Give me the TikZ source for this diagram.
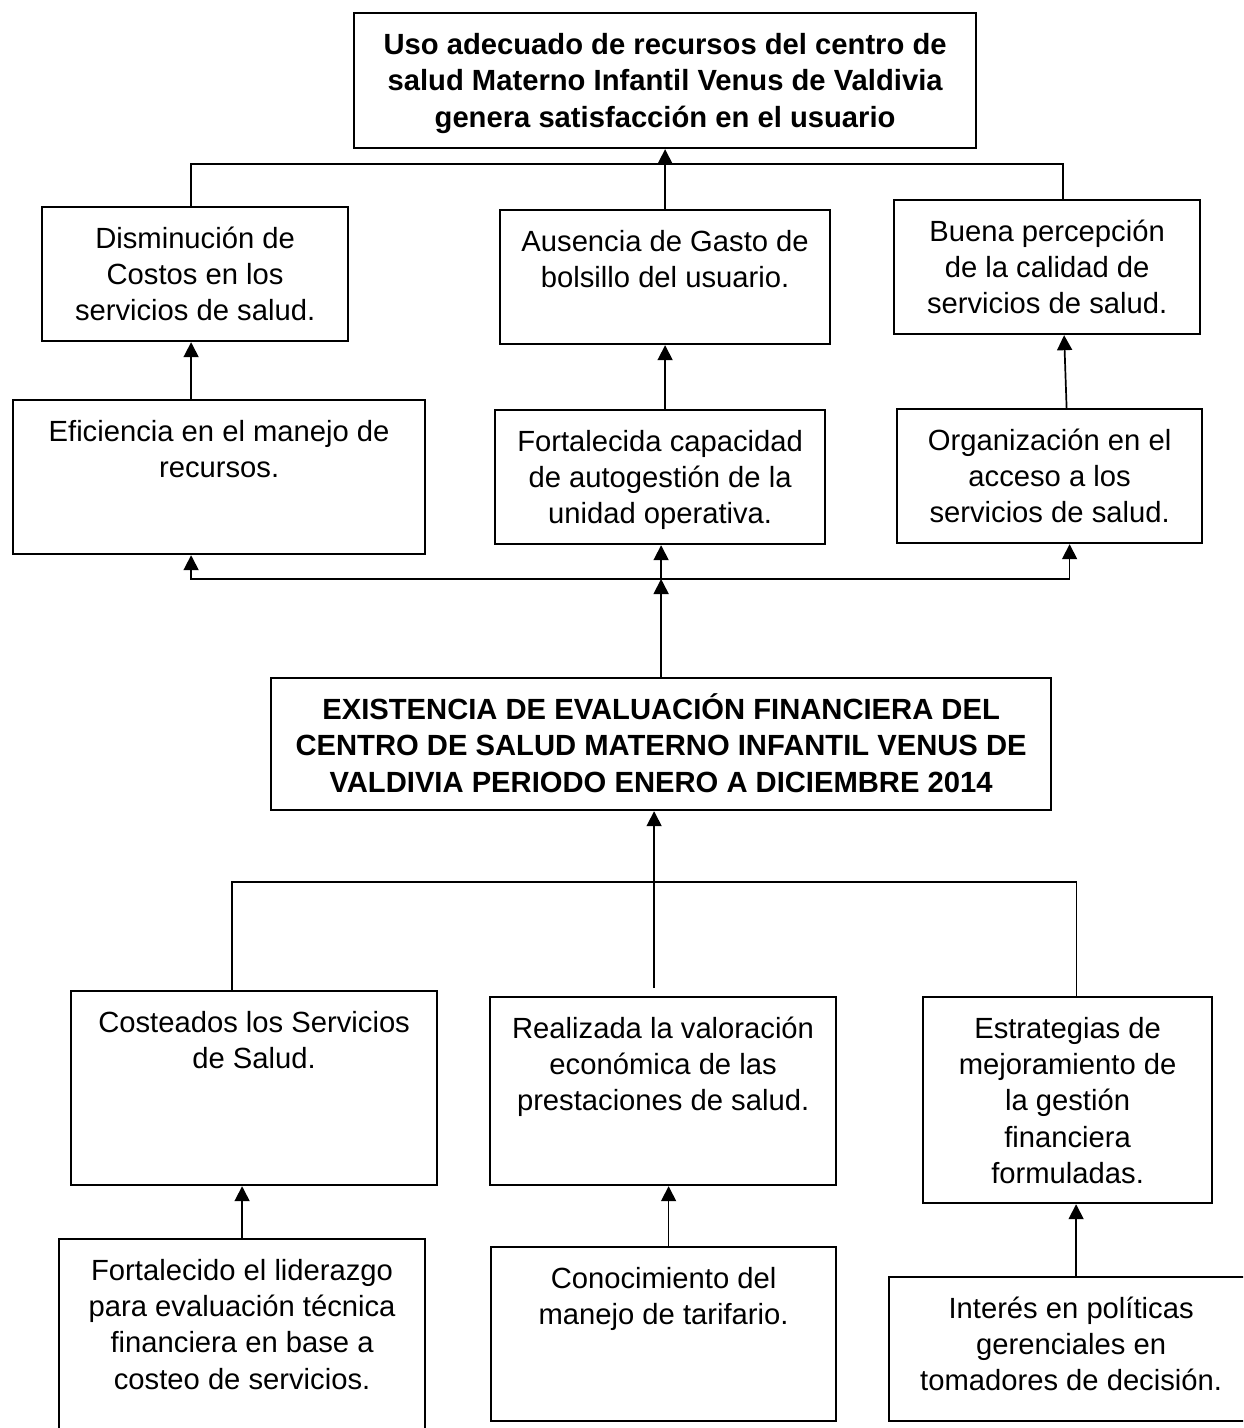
\documentclass[tikz,border=0pt]{standalone}
\usepackage{fontspec}
\setmainfont{Liberation Sans}
\usetikzlibrary{arrows.meta,calc}

\newdimen\pxu \pxu=0.5pt
\newcommand{\caja}[3]{\parbox[c][#2\pxu][t]{#1\pxu}{\centering\rule{0pt}{20.5pt}#3}}

\tikzset{
  caja/.style={draw, line width=1.1pt, inner sep=0pt, anchor=north west, font=\fontsize{14.6pt}{18.2pt}\selectfont},
  titulo/.style={caja, font=\fontsize{14.6pt}{18.3pt}\selectfont\bfseries},
  flecha/.style={draw, line width=0.85pt, -{Triangle[length=7.5pt,width=7.5pt]}},
  linea/.style={draw, line width=0.85pt},
}

\begin{document}
\begin{tikzpicture}[x=0.5pt,y=-0.5pt]
\useasboundingbox (0,0) rectangle (1243,1428);
\clip (0,0) rectangle (1243,1428);

\node[titulo] (fin) at (353,12) {\caja{622}{135}{Uso adecuado de recursos del centro de\\salud Materno Infantil Venus de Valdivia\\genera satisfacción en el usuario}};
\node[caja] (a) at (41,206) {\caja{306}{134}{Disminución de\\Costos en los\\servicios de salud.}};
\node[caja] (b) at (499,209) {\caja{330}{134}{Ausencia de Gasto de\\bolsillo del usuario.}};
\node[caja] (c) at (893,199) {\caja{306}{134}{Buena percepción\\de la calidad de\\servicios de salud.}};
\node[caja] (d) at (12,399) {\caja{412}{154}{Eficiencia en el manejo de\\recursos.}};
\node[caja] (e) at (494,409) {\caja{330}{134}{Fortalecida capacidad\\de autogestión de la\\unidad operativa.}};
\node[caja] (f) at (896,408) {\caja{305}{134}{Organización en el\\acceso a los\\servicios de salud.}};
\node[titulo] (eval) at (270,677) {\caja{780}{132}{EXISTENCIA DE EVALUACIÓN FINANCIERA DEL\\CENTRO DE SALUD MATERNO INFANTIL VENUS DE\\VALDIVIA PERIODO ENERO A DICIEMBRE 2014}};
\node[caja] (g) at (70,990) {\caja{366}{194}{Costeados los Servicios\\de Salud.}};
\node[caja] (h) at (489,996) {\caja{346}{188}{Realizada la valoración\\económica de las\\prestaciones de salud.}};
\node[caja] (i) at (922,996) {\caja{289}{206}{Estrategias de\\mejoramiento de\\la gestión\\financiera\\formuladas.}};
\node[caja] (j) at (58,1238) {\caja{366}{210}{Fortalecido el liderazgo\\para evaluación técnica\\financiera en base a\\costeo de servicios.}};
\node[caja] (k) at (490,1246) {\caja{345}{174}{Conocimiento del\\manejo de tarifario.}};
\node[caja] (l) at (888,1276) {\caja{364}{144}{Interés en políticas\\gerenciales en\\tomadores de decisión.}};

\draw[linea] ($(a.north)+(-4,0)$) -- ++(0,-42) -| ($(c.north)+(16,0)$);
\draw[flecha] (b.north) -- (fin.south);
\draw[flecha] ($(a.south |- d.north)+(-4,0)$) -- ($(a.south)+(-4,0)$);
\draw[flecha] (b.south |- e.north) -- (b.south);
\draw[flecha] ($(f.north)+(17,0)$) -- ($(c.south)+(17,0)$);

\coordinate (nudo) at ($(eval.north)+(0,-98)$);
\draw[flecha] (eval.north) -- (nudo);
\draw[flecha] (nudo) -| ($(d.south)+(-28,0)$);
\draw[flecha] (nudo) -| ($(f.south)+(20,0)$);
\draw[flecha] (nudo) -- (nudo |- e.south);

\coordinate (rama) at ($(eval.south)+(-7,71)$);
\draw[flecha] ($(rama |- h.north)+(0,-8)$) -- (rama |- eval.south);
\draw[linea] ($(g.north)+(-22,0)$) |- (rama) -| ($(i.north)+(9,0)$);
\draw[flecha] (j.north) -- (j.north |- g.south);
\draw[flecha] ($(k.north)+(5,0)$) -- ($(k.north |- h.south)+(5,0)$);
\draw[flecha] ($(l.north)+(5,0)$) -- ($(l.north |- i.south)+(5,0)$);
\end{tikzpicture}
\end{document}
